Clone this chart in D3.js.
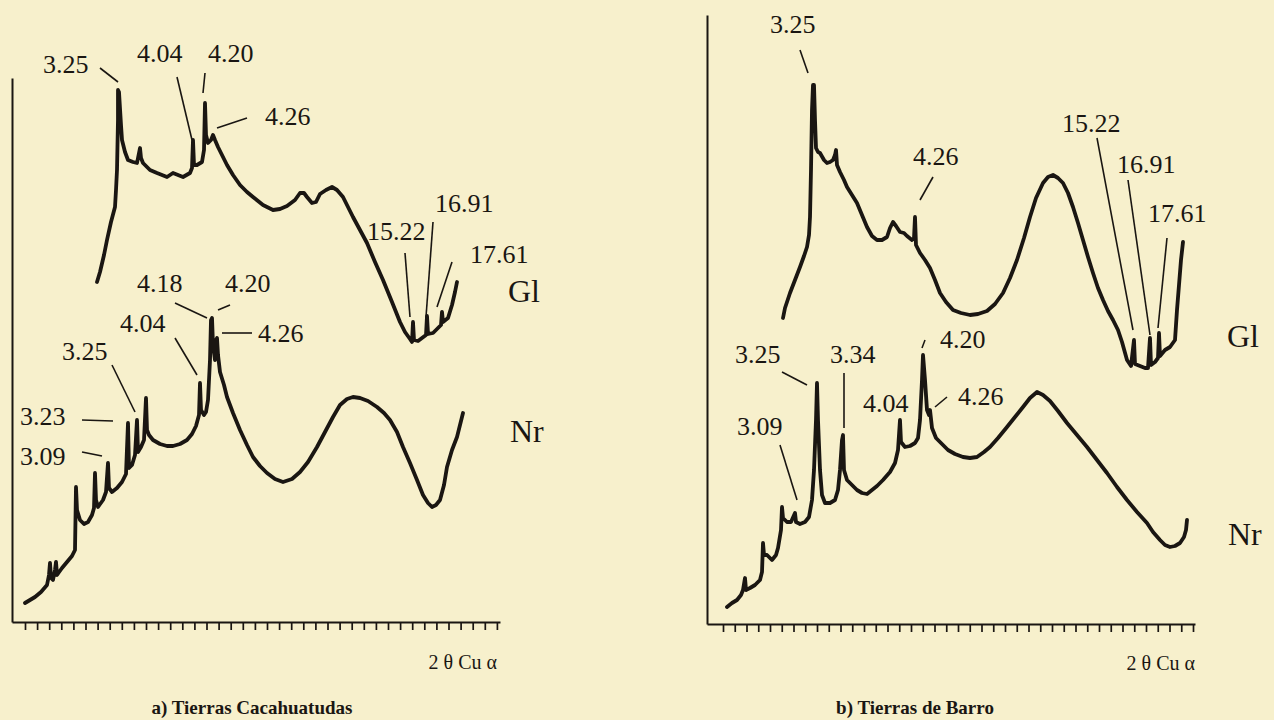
<!DOCTYPE html>
<html><head><meta charset="utf-8">
<script src="https://cdn.jsdelivr.net/npm/d3@7"></script>
<style>
html,body{margin:0;padding:0;background:#f7f0cc;}
svg{display:block;}
text{font-family:"Liberation Serif","DejaVu Serif",serif;fill:#1a1612;}
</style></head><body>
<svg id="chart" width="1274" height="720"></svg>
<script>
// Digitised diffractograms: x = channel along 2θ axis, y = relative intensity (counts)
// a) Tierras Cacahuatudas
const tcGl = [[85,340],[88,350],[92,367],[95,382],[99,400],[103,415],[104,432],[105,452],[106,502],[106,532],[107,530],[109,497],[110,482],[113,470],[116,462],[121,460],[125,459],[128,474],[129,464],[131,459],[138,452],[145,449],[155,445],[161,449],[166,447],[171,445],[178,449],[180,454],[181,482],[182,457],[185,457],[190,460],[192,472],[193,519],[194,487],[196,479],[199,482],[201,487],[203,482],[206,475],[210,467],[215,457],[221,447],[228,437],[235,430],[241,425],[251,417],[261,412],[268,413],[275,416],[283,422],[288,429],[292,429],[295,425],[300,419],[304,420],[308,428],[314,432],[320,435],[325,432],[331,425],[336,415],[341,405],[348,392],[355,379],[363,360],[371,342],[380,320],[388,300],[393,290],[398,283],[400,280],[401,300],[402,282],[406,281],[410,284],[414,287],[415,306],[416,288],[421,289],[426,294],[429,297],[430,310],[431,300],[436,304],[440,317],[443,330],[445,340]];
const tcNr = [[13,19],[18,22],[23,25],[29,30],[35,37],[37,47],[38,59],[39,44],[41,42],[43,52],[44,60],[45,47],[50,54],[55,60],[60,66],[63,72],[64,135],[65,112],[68,102],[72,98],[76,100],[80,107],[82,114],[83,149],[84,122],[86,115],[91,122],[94,130],[96,159],[97,134],[100,130],[105,134],[110,140],[114,148],[116,199],[117,154],[120,157],[123,167],[125,202],[126,170],[129,175],[132,182],[134,224],[135,192],[137,187],[141,182],[148,178],[155,176],[161,176],[168,178],[175,182],[180,188],[184,196],[187,207],[188,239],[189,212],[192,207],[194,210],[196,222],[198,262],[199,302],[200,304],[201,277],[203,262],[204,282],[205,284],[206,267],[208,250],[212,237],[215,225],[221,209],[228,192],[235,177],[241,165],[248,156],[255,149],[263,143],[271,140],[280,143],[288,150],[296,160],[305,175],[313,190],[321,205],[328,217],[335,223],[341,225],[348,224],[356,221],[365,215],[372,209],[378,202],[385,190],[391,175],[398,159],[405,142],[411,127],[416,119],[420,115],[424,117],[428,122],[432,137],[435,155],[440,172],[445,185],[448,197],[451,209]];
// b) Tierras de Barro
const tbGl = [[76,306],[78,316],[83,331],[88,344],[93,357],[97,368],[100,377],[102,389],[103,407],[104,454],[105,514],[106,539],[107,539],[108,504],[109,476],[111,472],[113,471],[117,464],[120,461],[123,462],[126,464],[128,469],[129,474],[130,459],[133,452],[137,444],[140,437],[145,429],[150,421],[155,409],[160,397],[165,388],[170,384],[175,384],[180,387],[183,396],[186,402],[189,398],[193,392],[197,391],[200,388],[205,384],[207,386],[208,407],[209,379],[213,371],[218,364],[223,356],[228,344],[233,331],[239,322],[246,314],[254,311],[263,309],[271,310],[280,313],[288,320],[296,331],[303,346],[310,364],[317,386],[323,407],[329,426],[336,441],[341,447],[346,449],[351,446],[356,441],[361,431],[366,417],[371,401],[376,384],[381,367],[386,351],[391,336],[396,324],[401,313],[406,304],[411,294],[415,282],[420,264],[424,258],[427,284],[428,260],[433,258],[438,256],[441,256],[443,286],[444,259],[448,262],[451,266],[452,291],[453,268],[458,274],[463,277],[468,284],[470,314],[472,339],[474,364],[476,382]];
const tbNr = [[20,17],[25,21],[30,24],[34,29],[36,34],[38,46],[39,34],[43,36],[48,39],[53,44],[55,52],[56,81],[57,69],[60,69],[65,64],[69,69],[71,76],[74,94],[75,117],[76,106],[80,102],[84,102],[88,111],[89,102],[93,100],[98,102],[102,107],[105,124],[107,154],[109,204],[110,241],[111,204],[113,154],[115,129],[118,121],[123,121],[128,124],[131,134],[133,154],[135,184],[136,189],[137,154],[140,144],[145,139],[150,134],[155,131],[160,130],[165,134],[170,138],[176,144],[183,152],[188,161],[191,174],[193,204],[194,182],[198,177],[203,178],[208,181],[211,186],[213,204],[215,244],[216,269],[218,244],[220,214],[222,209],[223,214],[225,196],[229,186],[235,180],[241,174],[248,170],[256,167],[263,166],[270,167],[277,172],[283,177],[291,186],[300,197],[308,207],[316,217],[323,226],[330,232],[336,229],[343,223],[351,213],[360,201],[370,189],[380,177],[390,164],[400,151],[410,137],[420,124],[430,112],[440,101],[446,92],[453,84],[458,79],[463,77],[468,78],[473,81],[477,87],[479,94],[480,104]];

// peak annotations: d-spacing text, text anchor (x,y) and leader line (x1,y1,x2,y2), in data units
const tcPeaks = [
  ['3.25',31,549,[88,554,106,540]], ['4.04',125,560,[165,545,180,482]], ['4.20',196,560,[193,549,191,529]],
  ['4.26',253,497,[235,504,205,494]], ['15.22',355,382,[393,369,398,305]], ['16.91',423,410,[421,400,414,305]],
  ['17.61',458,359,[440,360,425,315]], ['4.18',125,330,[163,319,195,304]], ['4.20',213,330,[218,317,206,312]],
  ['4.04',108,290,[163,284,185,247]], ['4.26',246,280,[210,289,240,289]], ['3.25',50,262,[100,257,123,210]],
  ['3.23',8,197,[70,202,101,201]], ['3.09',8,157,[70,170,90,166]]
];
const tbPeaks = [
  ['3.25',63,591,[93,574,101,551]], ['4.26',206,459,[226,447,213,424]], ['15.22',355,492,[390,486,426,294]],
  ['16.91',410,451,[421,444,443,289]], ['17.61',441,402,[460,386,451,296]], ['3.25',28,261,[75,252,100,239]],
  ['3.34',123,261,[137,251,137,196]], ['4.20',233,276,[218,284,215,276]], ['3.09',30,189,[73,179,90,124]],
  ['4.04',156,212,null], ['4.26',251,219,[240,227,228,217]]
];
const tcSeriesNames = [['Gl',496,320],['Nr',498,180]];
const tbSeriesNames = [['Gl',520,277],['Nr',521,79]];
const titles = ['a) Tierras Cacahuatudas','b) Tierras de Barro'];
const axisTitle = '2 θ Cu α';
const tcTicks = d3.range(40).map(k => 13 + k * 12.1);
const tbTicks = d3.range(41).map(k => 16 + k * 11.75);

const ink = '#1a1612';
const serif = '"Liberation Serif","DejaVu Serif",serif';
const svg = d3.select('#chart');

const panels = [
  {series:[tcGl,tcNr], peaks:tcPeaks, names:tcSeriesNames, ticks:tcTicks, title:titles[0],
   xr:[12,500], yr:[622,78], xd:[0,488], yd:[0,544], titleX:252, axisLabelX:497, axisLabelY:669},
  {series:[tbGl,tbNr], peaks:tbPeaks, names:tbSeriesNames, ticks:tbTicks, title:titles[1],
   xr:[707,1195], yr:[624,15], xd:[0,488], yd:[0,609], titleX:915, axisLabelX:1195, axisLabelY:670}
];

panels.forEach(p => {
  const x = d3.scaleLinear().domain(p.xd).range(p.xr);
  const y = d3.scaleLinear().domain(p.yd).range(p.yr);
  const g = svg.append('g');

  // axes
  const xa = g.append('g').attr('transform', `translate(0,${p.yr[0]})`)
    .call(d3.axisBottom(x).tickValues(p.ticks).tickSize(8).tickSizeOuter(0).tickFormat(''));
  xa.select('.domain').attr('stroke', ink).attr('stroke-width', 2);
  xa.selectAll('.tick line').attr('stroke', ink).attr('stroke-width', 1.7);
  const ya = g.append('g').attr('transform', `translate(${p.xr[0]},0)`)
    .call(d3.axisLeft(y).tickValues([]).tickSizeOuter(0));
  ya.select('.domain').attr('stroke', ink).attr('stroke-width', 2);

  // traces
  const line = d3.line().x(d => x(d[0])).y(d => y(d[1]));
  p.series.forEach(s => {
    g.append('path').datum(s).attr('d', line)
      .attr('fill', 'none').attr('stroke', ink).attr('stroke-width', 3.8)
      .attr('stroke-linejoin', 'round').attr('stroke-linecap', 'round');
  });

  // peak labels
  p.peaks.forEach(([t, tx, ty, l]) => {
    g.append('text').attr('x', x(tx)).attr('y', y(ty)).attr('font-family', serif).attr('font-size', 26).text(t);
    if (l) g.append('line').attr('x1', x(l[0])).attr('y1', y(l[1])).attr('x2', x(l[2])).attr('y2', y(l[3]))
      .attr('stroke', ink).attr('stroke-width', 1.6);
  });

  p.names.forEach(([t, tx, ty]) => {
    g.append('text').attr('x', x(tx)).attr('y', y(ty)).attr('font-family', serif).attr('font-size', 32).text(t);
  });

  g.append('text').attr('x', p.axisLabelX).attr('y', p.axisLabelY).attr('text-anchor', 'end')
    .attr('font-family', serif).attr('font-size', 20).text(axisTitle);
  g.append('text').attr('x', p.titleX).attr('y', 714).attr('text-anchor', 'middle')
    .attr('font-family', serif).attr('font-size', 19).attr('font-weight', 'bold').text(p.title);
});
</script>
</body></html>
